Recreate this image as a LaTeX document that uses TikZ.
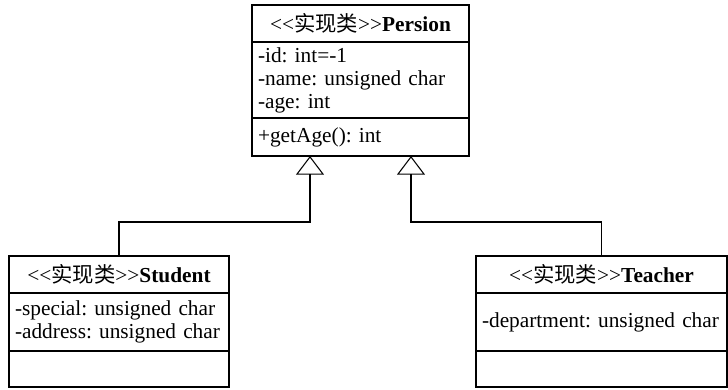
\documentclass[tikz,border=0pt]{standalone}
\usepackage{fontspec}
\setmainfont{Liberation Serif}
\newfontfamily\cjk{Noto Sans CJK SC}
\usetikzlibrary{arrows.meta, positioning}
\newcommand{\stereo}{<\kern0pt<{\cjk 实现类}>\kern0pt>}
\frenchspacing

\begin{document}
\begin{tikzpicture}[x=0.75pt, y=-0.75pt, >={Triangle[open, length=14pt, width=21pt]}]
      % Node style
      \tikzset{
        compart/.style={draw, line width=0.8pt, outer sep=0pt, inner xsep=4.5pt, inner ysep=0pt,
          align=left, font=\fontsize{16}{17.25}\selectfont},
        headbox/.style={compart, align=center, minimum height=27.75pt},
      }
      \useasboundingbox (0,0) rectangle (728,389);
      % Nodes
      \node (persHead) [headbox, anchor=north west, minimum width=162.75pt] at (252,5) {\stereo\textbf{Persion}};
      \node (persAttr) [compart, text width=153.75pt, minimum height=57pt, below=0pt of persHead]
        {-id: int=-1\\-name: unsigned char\\-age: int};
      \node (persOps) [compart, text width=153.75pt, minimum height=28.5pt, below=0pt of persAttr]
        {+getAge(): int};
      \node (stuHead) [headbox, anchor=north west, minimum width=165pt] at (9,256) {\stereo\textbf{Student}};
      \node (stuAttr) [compart, text width=156pt, minimum height=43.5pt, below=0pt of stuHead]
        {-special: unsigned char\\-address: unsigned char};
      \node (stuOps) [compart, text width=156pt, minimum height=27pt, below=0pt of stuAttr] {};
      \node (teaHead) [headbox, anchor=north west, minimum width=188.25pt] at (476,256) {\stereo\textbf{Teacher}};
      \node (teaAttr) [compart, text width=179.25pt, minimum height=43.5pt, below=0pt of teaHead]
        {-department: unsigned char};
      \node (teaOps) [compart, text width=179.25pt, minimum height=27pt, below=0pt of teaAttr] {};
      % Arrows
      \coordinate (stuKnee) at (310,222);
      \coordinate (teaKnee) at (411,222);
      \draw[->, line width=0.8pt] (stuHead.north) |- (stuKnee) -- (stuKnee |- persOps.south);
      \draw[->, line width=0.8pt] (teaHead.north) |- (teaKnee) -- (teaKnee |- persOps.south);
    \end{tikzpicture}
\end{document}
